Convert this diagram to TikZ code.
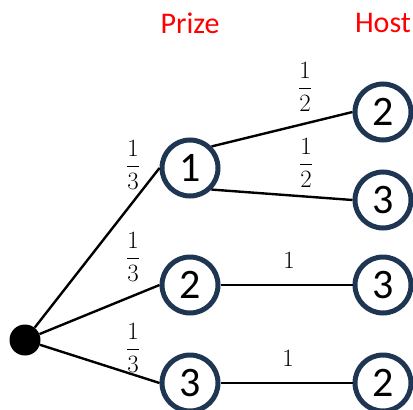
\documentclass[tikz,border=0pt]{standalone}
\usepackage{fontspec}
\setmainfont{Carlito}
\definecolor{ringblue}{HTML}{1F3653}
\begin{document}
\begin{tikzpicture}[x=1pt,y=-1pt,
  state/.style={circle, draw=ringblue, line width=5pt, minimum size=56pt,
    inner sep=0pt, font=\fontsize{42}{42}\selectfont},
  branch/.style={line width=2.4pt},
  prob/.style={inner sep=0pt, font=\fontsize{24}{24}\selectfont},
  head/.style={text=red, inner sep=0pt, font=\fontsize{30}{30}\selectfont}]
\useasboundingbox (0,0) rectangle (413,410);

% column headings
\node[head] (hprize) at (190,23) {Prize};
\node[head] (hhost)  at (383,23) {Host};

% root and states
\node[circle, fill=black, minimum size=31pt, inner sep=0pt] (root) at (25,340) {};
\node[state] (p1) at (190,168) {1};
\node[state] (p2) at (190,285) {2};
\node[state] (p3) at (190,383) {3};
\node[state] (h1) at (383,112) {2};
\node[state] (h2) at (383,200) {3};
\node[state] (h3) at (383,285) {3};
\node[state] (h4) at (383,383) {2};

% branches
\draw[branch] (root) -- (p1.west);
\draw[branch] (root) -- (p2.west);
\draw[branch] (root) -- (p3.west);
\draw[branch] (p1.45)  -- (h1.west);
\draw[branch] (p1.-45) -- (h2.west);
\draw[branch] (p2) -- (h3);
\draw[branch] (p3) -- (h4);

% branch probabilities
\node[prob] (q1) at (133,165) {$\displaystyle\frac{1}{3}$};
\node[prob] (q2) at (133,257) {$\displaystyle\frac{1}{3}$};
\node[prob] (q3) at (133,348) {$\displaystyle\frac{1}{3}$};
\node[prob] (r1) at (305,87)  {$\displaystyle\frac{1}{2}$};
\node[prob] (r2) at (306,163) {$\displaystyle\frac{1}{2}$};
\node[prob] (s1) at (289,260) {$1$};
\node[prob] (s2) at (288,358) {$1$};
\end{tikzpicture}
\end{document}
